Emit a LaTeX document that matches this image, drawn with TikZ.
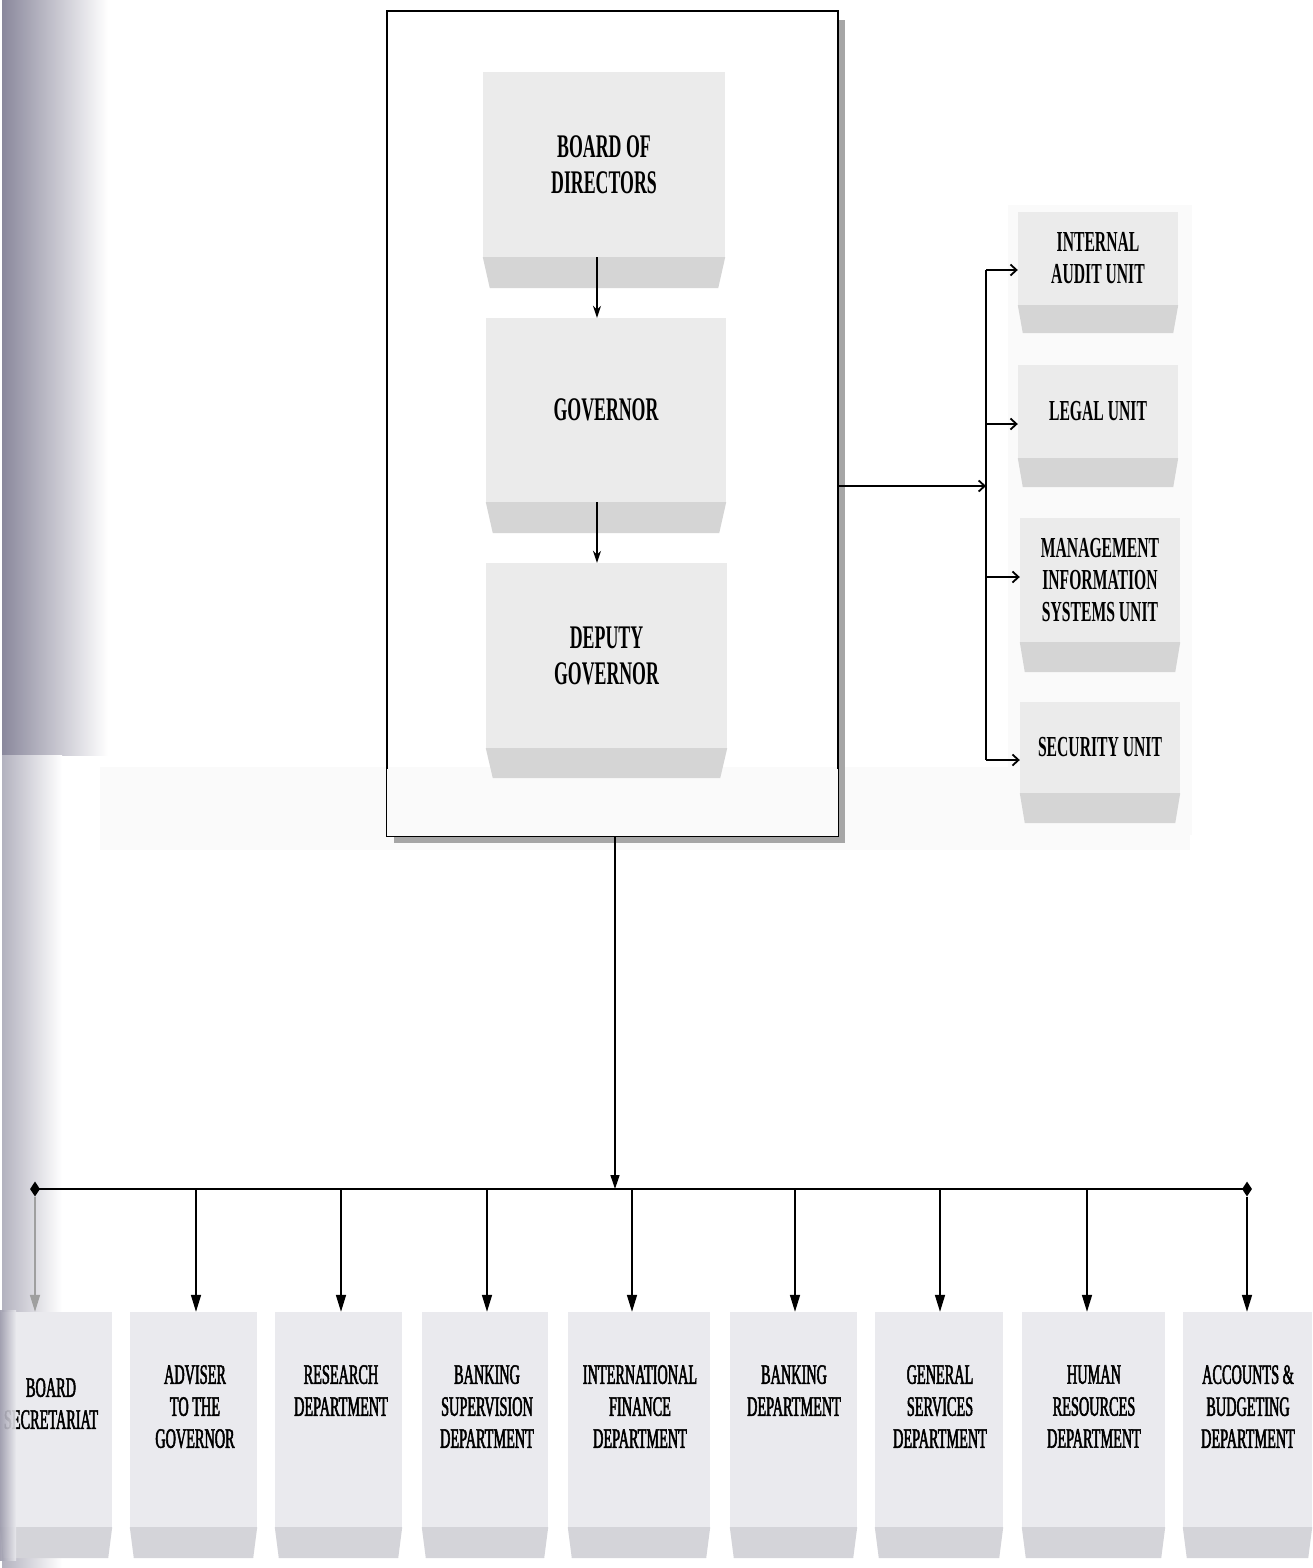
\documentclass[tikz,border=0pt]{standalone}
\usepackage{fontspec}
\setmainfont{Liberation Serif}
\newfontfamily\tfont[FakeStretch=0.54,BoldFont={Liberation Serif Bold},BoldFeatures={FakeStretch=0.54}]{Liberation Serif}
\newfontfamily\dfont[FakeStretch=0.51,FakeBold=1.8]{Liberation Serif}
\usetikzlibrary{arrows.meta,calc,shapes.geometric}
\definecolor{faceA}{HTML}{EBEBEB}
\definecolor{faceB}{HTML}{D5D5D5}
\definecolor{faceC}{HTML}{EAEAEE}
\definecolor{faceD}{HTML}{D4D4D9}
\definecolor{stripD}{HTML}{8A889C}
\definecolor{shadowgray}{HTML}{A6A6A6}
\definecolor{bandgray}{HTML}{FAFAFA}
\newcommand{\bface}[4]{\fill[#4] (#1.south west) -- (#1.south east) -- ($(#1.south east)+(-#3,#2)$) -- ($(#1.south west)+(#3,#2)$) -- cycle;}
\tikzset{
  face/.style={rectangle, fill=faceA, inner sep=0pt, align=center},
  topface/.style={face, font=\tfont\bfseries\fontsize{33}{36}\selectfont},
  unitface/.style={face, font=\tfont\bfseries\fontsize{29}{32}\selectfont},
  deptface/.style={rectangle, fill=faceC, inner sep=0pt, minimum height=215pt},
  depttext/.style={inner sep=0pt, align=center, anchor=north, font=\dfont\fontsize{28}{32}\selectfont},
  downarr/.style={line width=1.4pt, -{Stealth[length=12pt,width=8pt]}},
  unitarr/.style={line width=1.8pt, -{Straight Barb[length=6pt,width=11pt]}},
  deptarr/.style={line width=1.6pt, -{Triangle[length=17pt,width=10pt]}},
  endmark/.style={diamond, fill=black, inner sep=0pt, minimum width=10pt, minimum height=15pt}
}
\begin{document}
\begin{tikzpicture}[x=1pt,y=-1pt]
\useasboundingbox (0,0) rectangle (1313,1568);
\fill[white] (0,0) rectangle (1313,1568);
% left gradient strip
\shade[left color=stripD, right color=white] (2,0) rectangle (108,755);
\shade[left color=stripD!65, right color=white] (2,755) rectangle (62,1568);
% light band and backdrop
\fill[bandgray] (100,767) rectangle (1190,850);
\fill[bandgray] (1008,205) rectangle (1192,835);
% big frame with shadow
\fill[shadowgray] (838,20) rectangle (845,843);
\fill[shadowgray] (394,836) rectangle (845,843);
\node[draw=black, line width=2pt, minimum width=451pt, minimum height=825pt, inner sep=0pt] (big) at (612.5,423.5) {};
\fill[bandgray] ($(big.south west)+(1,-1)$) rectangle ($(big.south east)+(-1,-68)$);
% top column
\node[topface, minimum width=242pt, minimum height=185pt] (bod) at (604,164.5) {BOARD OF\\DIRECTORS};
\bface{bod}{31}{7}{faceB}
\node[topface, minimum width=240pt, minimum height=184pt] (gov) at (606,410) {GOVERNOR};
\bface{gov}{31}{7}{faceB}
\node[topface, minimum width=241pt, minimum height=185pt] (dep) at (606.5,655.5) {DEPUTY\\GOVERNOR};
\bface{dep}{30}{7}{faceB}
\draw[downarr] ([xshift=-7pt]bod.south) -- ([xshift=-9pt]gov.north);
\draw[downarr] ([xshift=-9pt]gov.south) -- ([xshift=-9.5pt]dep.north);
% units on the right
\node[unitface, minimum width=160pt, minimum height=93pt] (ia) at (1098,258.5) {INTERNAL\\AUDIT UNIT};
\bface{ia}{28}{5}{faceB}
\node[unitface, minimum width=160pt, minimum height=93pt] (lu) at (1098,411.5) {LEGAL UNIT};
\bface{lu}{29}{5}{faceB}
\node[unitface, minimum width=160pt, minimum height=124pt] (mis) at (1100,580) {MANAGEMENT\\INFORMATION\\SYSTEMS UNIT};
\bface{mis}{30}{5}{faceB}
\node[unitface, minimum width=160pt, minimum height=91pt] (su) at (1100,747.5) {SECURITY UNIT};
\bface{su}{30}{5}{faceB}
\coordinate (sp) at (986,486);
\coordinate (s1) at (986,270);
\coordinate (s2) at (986,424);
\coordinate (s3) at (986,577);
\coordinate (s4) at (986,760);
\draw[unitarr] (big.east |- sp) -- (sp);
\draw[line width=1.8pt] (s1) -- (s4);
\draw[unitarr] (s1) -- (s1 -| ia.west);
\draw[unitarr] (s2) -- (s2 -| lu.west);
\draw[unitarr] (s3) -- (s3 -| mis.west);
\draw[unitarr] (s4) -- (s4 -| su.west);
% departments
\node[deptface, minimum width=112pt] (b1) at (56,1419.5) {};
\node[deptface, minimum width=127pt] (b2) at (193.5,1419.5) {};
\node[deptface, minimum width=127pt] (b3) at (338.5,1419.5) {};
\node[deptface, minimum width=126pt] (b4) at (485,1419.5) {};
\node[deptface, minimum width=142pt] (b5) at (639,1419.5) {};
\node[deptface, minimum width=127pt] (b6) at (793.5,1419.5) {};
\node[deptface, minimum width=128pt] (b7) at (939,1419.5) {};
\node[deptface, minimum width=143pt] (b8) at (1093.5,1419.5) {};
\node[deptface, minimum width=129pt] (b9) at (1247.5,1419.5) {};
\foreach \b in {b1,b2,b3,b4,b5,b6,b7,b8,b9} {\bface{\b}{31}{4}{faceD}}
\node[depttext] (t1) at (51,1378) {BOARD\\SECRETARIAT};
\node[depttext] (t2) at (195,1365) {ADVISER\\TO THE\\GOVERNOR};
\node[depttext] (t3) at (341,1365) {RESEARCH\\DEPARTMENT};
\node[depttext] (t4) at (487,1365) {BANKING\\SUPERVISION\\DEPARTMENT};
\node[depttext] (t5) at (640,1365) {INTERNATIONAL\\FINANCE\\DEPARTMENT};
\node[depttext] (t6) at (794,1365) {BANKING\\DEPARTMENT};
\node[depttext] (t7) at (940,1365) {GENERAL\\SERVICES\\DEPARTMENT};
\node[depttext] (t8) at (1094,1365) {HUMAN\\RESOURCES\\DEPARTMENT};
\node[depttext] (t9) at (1248,1365) {ACCOUNTS \&\\BUDGETING\\DEPARTMENT};
% overlay of the left strip on the first department
\shade[left color=stripD!85, right color=faceC, opacity=0.9] (0,1310) rectangle (16,1560);
% bus
\coordinate (bm) at (615,1189);
\coordinate (k1) at (35,1189);
\coordinate (k2) at (196,1189);
\coordinate (k3) at (341,1189);
\coordinate (k4) at (487,1189);
\coordinate (k5) at (632,1189);
\coordinate (k6) at (795,1189);
\coordinate (k7) at (940,1189);
\coordinate (k8) at (1087,1189);
\coordinate (k9) at (1247,1189);
\draw[line width=1.3pt, -{Triangle[length=14pt,width=9pt]}] ([xshift=2.5pt]big.south) -- (bm);
\draw[line width=2.2pt] (k1) -- (k9);
\node[endmark] (dl) at (k1) {};
\node[endmark] (dr) at (k9) {};
\draw[deptarr, draw=gray!75] (dl) -- (k1 |- b1.north);
\draw[deptarr] (k2) -- (k2 |- b2.north);
\draw[deptarr] (k3) -- (k3 |- b3.north);
\draw[deptarr] (k4) -- (k4 |- b4.north);
\draw[deptarr] (k5) -- (k5 |- b5.north);
\draw[deptarr] (k6) -- (k6 |- b6.north);
\draw[deptarr] (k7) -- (k7 |- b7.north);
\draw[deptarr] (k8) -- (k8 |- b8.north);
\draw[deptarr] (dr) -- (k9 |- b9.north);
\end{tikzpicture}
\end{document}
